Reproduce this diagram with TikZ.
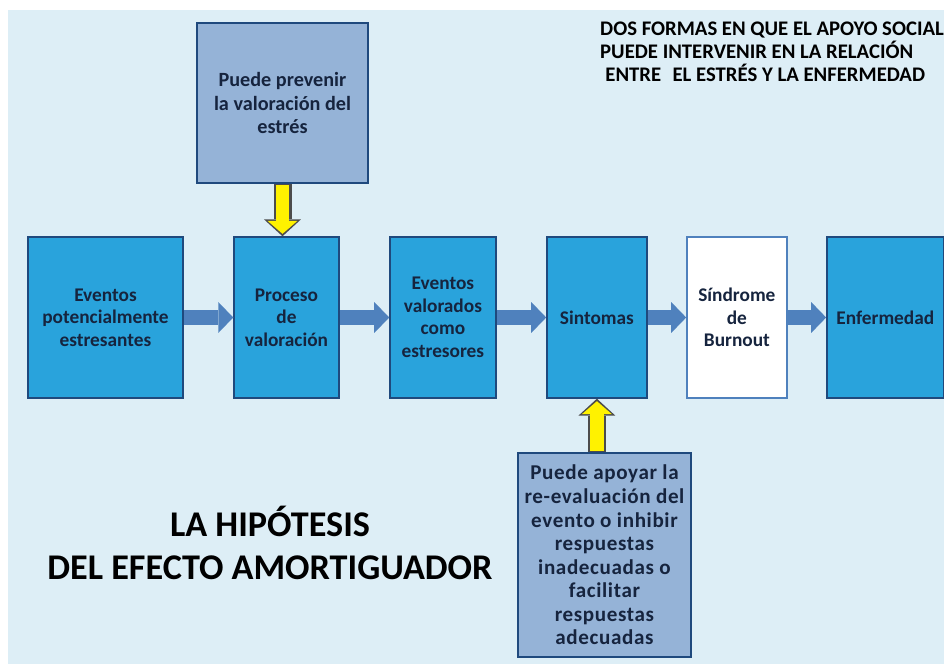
\documentclass[tikz,border=0pt]{standalone}
\usepackage{fontspec}
\setmainfont{Carlito}
\usetikzlibrary{arrows.meta,positioning}

\definecolor{panelbg}{RGB}{221,238,246}
\definecolor{boxblue}{RGB}{41,163,220}
\definecolor{boxline}{RGB}{31,73,125}
\definecolor{notefill}{RGB}{149,179,215}
\definecolor{arrowblue}{RGB}{79,129,189}
\definecolor{textnavy}{RGB}{22,36,62}

\begin{document}
\begin{tikzpicture}[
  x=0.02cm, y=-0.02cm,
  block/.style={rectangle, draw=boxline, line width=0.8pt, fill=boxblue, minimum height=3.22cm, font=\bfseries\fontsize{11}{12.8}\selectfont, text=textnavy, align=center, inner sep=0pt},
  note/.style={rectangle, draw=boxline, line width=1pt, fill=notefill, font=\bfseries\fontsize{11.5}{13.4}\selectfont, text=textnavy, align=center, inner sep=0pt},
  arrow/.style={line width=0.3cm, draw=arrowblue, -{Triangle[length=0.3cm, width=0.62cm, line width=0pt]}},
  support/.style={line width=0.36cm, draw=gray!60!black, -{Triangle[length=0.34cm, width=0.74cm, line width=0pt]}},
  supportfill/.style={line width=0.27cm, draw=yellow, -{Triangle[length=0.26cm, width=0.6cm, line width=0pt]}, shorten >=0.05cm, shorten <=0.03cm}
]

% Page and panel
\useasboundingbox (0,0) rectangle (944,666);
\fill[white] (0,0) rectangle (944,666);
\fill[panelbg] (8,10) rectangle (944,664);

% Main chain
\node[block, minimum width=3.1cm] (eventos) at (105.5,317.5) {Eventos\\potencialmente\\estresantes};
\node[block, right of=eventos, node distance=3.62cm, minimum width=2.1cm] (proceso) {Proceso\\de\\valoración};
\node[block, right of=proceso, node distance=3.13cm, minimum width=2.12cm] (valorados) {Eventos\\valorados\\como\\estresores};
\node[block, right of=valorados, node distance=3.08cm, minimum width=2.0cm] (sintomas) {Sintomas};
\node[block, right of=sintomas, node distance=2.8cm, minimum width=2.0cm, fill=white, draw=arrowblue] (burnout) {Síndrome\\de\\Burnout};
\node[block, right of=burnout, node distance=2.97cm, minimum width=2.34cm] (enfermedad) {Enfermedad};

% Social support
\node[note, minimum width=3.42cm, minimum height=3.2cm] (prevenir) at (282.5,103) {Puede prevenir\\la valoración del\\estrés};
\node[note, minimum width=3.46cm, minimum height=4.08cm, font=\bfseries\fontsize{12}{13.4}\selectfont\addfontfeatures{LetterSpace=3}] (apoyar) at (604.5,555) {Puede apoyar la\\re-evaluación del\\evento o inhibir\\respuestas\\inadecuadas o\\facilitar\\respuestas\\adecuadas};

% Arrows
\draw[arrow] (eventos) -- (proceso);
\draw[arrow] (proceso) -- (valorados);
\draw[arrow] (valorados) -- (sintomas);
\draw[arrow] (sintomas) -- (burnout);
\draw[arrow] (burnout) -- (enfermedad);

\draw[support] (prevenir.south) -- (prevenir.south |- proceso.north);
\draw[supportfill] (prevenir.south) -- (prevenir.south |- proceso.north);
\draw[support] (apoyar.north -| sintomas.south) -- (sintomas.south);
\draw[supportfill] (apoyar.north -| sintomas.south) -- (sintomas.south);

% Titles
\node[anchor=west, align=left, font=\bfseries\fontsize{11.8}{13.2}\selectfont] (formas) at (594,52) {DOS FORMAS EN QUE EL APOYO SOCIAL\\PUEDE INTERVENIR EN LA RELACIÓN\\\hspace{0.25em}ENTRE\hspace{0.55em}EL ESTRÉS Y LA ENFERMEDAD};
\node[align=center, font=\bfseries\fontsize{20.6}{24.4}\selectfont] (hipotesis) at (270,543) {LA HIPÓTESIS\\DEL EFECTO AMORTIGUADOR};

\end{tikzpicture}
\end{document}
